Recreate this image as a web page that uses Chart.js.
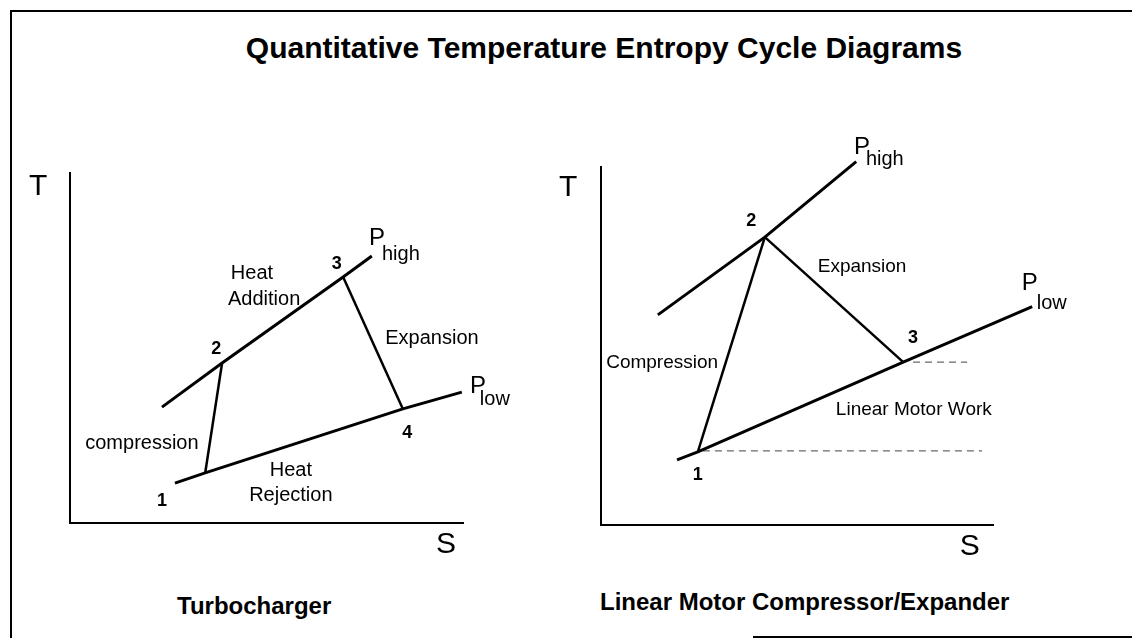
<!DOCTYPE html>
<html lang="en">
<head>
  <meta charset="UTF-8">
  <title>Quantitative Temperature Entropy Cycle Diagrams</title>
  <script src="https://cdn.jsdelivr.net/npm/chart.js@4"></script>
  <style>
    body { margin: 0; background: #fff; width: 1132px; height: 639px; position: relative; overflow: hidden;
           font-family: "Liberation Sans", Arial, sans-serif; color: #000; }
    .rule { position: absolute; background: #000; }
    .txt { position: absolute; white-space: nowrap; font-weight: bold; }
    canvas { position: absolute; top: 0; }
  </style>
</head>
<body>
  <div class="rule" style="left:10px; top:10px; width:1122px; height:2px;"></div>
  <div class="rule" style="left:10px; top:10px; width:2px; height:628px;"></div>
  <div class="rule" style="left:753px; top:636px; width:379px; height:2px;"></div>

  <div class="txt" style="left:104px; width:1000px; text-align:center; top:32px; font-size:30px; line-height:32px;">Quantitative Temperature Entropy Cycle Diagrams</div>
  <div class="txt" style="left:177px; top:594px; font-size:24px; line-height:24px;">Turbocharger</div>
  <div class="txt" style="left:600px; top:590px; font-size:24px; line-height:24px;">Linear Motor Compressor/Expander</div>

  <canvas id="turboChart" width="540" height="639" style="left:0;"></canvas>
  <canvas id="linearChart" width="592" height="639" style="left:540px;"></canvas>

  <script>
    // Turbocharger cycle (S = entropy, T = temperature, arbitrary units)
    const turboHighS = [2.34, 3.87, 6.95, 7.68];
    const turboHighT = [3.31, 4.57, 7.03, 7.63];
    const turboLowS  = [2.67, 3.44, 8.47, 9.97];
    const turboLowT  = [1.14, 1.43, 3.26, 3.74];
    const turboCompS = [3.44, 3.87];
    const turboCompT = [1.43, 4.57];
    const turboExpS  = [6.95, 8.47];
    const turboExpT  = [7.03, 3.26];

    // Linear motor compressor / expander cycle
    const linHighS = [1.45, 4.18, 6.51];
    const linHighT = [5.87, 8.04, 10.15];
    const linLowS  = [1.94, 2.47, 7.71, 11.0];
    const linLowT  = [1.82, 2.04, 4.55, 6.10];
    const linCompS = [2.47, 4.18];
    const linCompT = [2.04, 8.04];
    const linExpS  = [4.18, 7.71];
    const linExpT  = [8.04, 4.55];
    const linDash3S = [7.96, 9.34];
    const linDash3T = [4.55, 4.55];
    const linDash1S = [2.60, 9.72];
    const linDash1T = [2.07, 2.07];

    // text labels placed in S/T units
    const turboLabels = [
      { text: 'T', s: -0.81, t: 9.6, size: 30 },
      { text: 'S', s: 9.57, t: -0.63, size: 30 },
      { text: 'P', s: 7.81, t: 8.14, size: 24 },
      { text: 'high', s: 8.42, t: 7.66, size: 20 },
      { text: 'P', s: 10.38, t: 3.89, size: 24 },
      { text: 'low', s: 10.81, t: 3.54, size: 20 },
      { text: '1', s: 2.34, t: 0.63, size: 18, bold: true },
      { text: '2', s: 3.72, t: 4.97, size: 18, bold: true },
      { text: '3', s: 6.79, t: 7.4, size: 18, bold: true },
      { text: '4', s: 8.58, t: 2.57, size: 18, bold: true },
      { text: 'Heat', s: 4.63, t: 7.14, size: 20 },
      { text: 'Addition', s: 4.94, t: 6.4, size: 20 },
      { text: 'Expansion', s: 9.21, t: 5.26, size: 20 },
      { text: 'compression', s: 1.83, t: 2.26, size: 20 },
      { text: 'Heat', s: 5.62, t: 1.49, size: 20 },
      { text: 'Rejection', s: 5.62, t: 0.8, size: 20 }
    ];
    const linearLabels = [
      { text: 'T', s: -0.84, t: 9.41, size: 30 },
      { text: 'S', s: 9.41, t: -0.61, size: 30 },
      { text: 'P', s: 6.66, t: 10.56, size: 24 },
      { text: 'high', s: 7.24, t: 10.2, size: 20 },
      { text: 'P', s: 10.94, t: 6.76, size: 24 },
      { text: 'low', s: 11.5, t: 6.2, size: 20 },
      { text: '1', s: 2.47, t: 1.4, size: 18, bold: true },
      { text: '2', s: 3.83, t: 8.49, size: 18, bold: true },
      { text: '3', s: 7.96, t: 5.22, size: 18, bold: true },
      { text: 'Expansion', s: 6.66, t: 7.21, size: 19 },
      { text: 'Compression', s: 1.56, t: 4.53, size: 19 },
      { text: 'Linear Motor Work', s: 7.98, t: 3.21, size: 19 }
    ];

    function pts(sArr, tArr) {
      return sArr.map((s, i) => ({ x: s, y: tArr[i] }));
    }

    function line(sArr, tArr, width, dashed) {
      return {
        data: pts(sArr, tArr),
        showLine: true,
        pointRadius: 0,
        borderColor: dashed ? '#444' : '#000',
        borderWidth: width,
        borderDash: dashed ? [7, 5] : [],
        borderCapStyle: 'butt',
        clip: false
      };
    }

    function textPlugin(items) {
      return {
        id: 'cycleText',
        afterDatasetsDraw(chart) {
          const ctx = chart.ctx;
          const sx = chart.scales.x, ty = chart.scales.y;
          ctx.save();
          ctx.fillStyle = '#000';
          ctx.textAlign = 'center';
          ctx.textBaseline = 'middle';
          items.forEach(l => {
            ctx.font = (l.bold ? 'bold ' : '') + l.size + 'px "Liberation Sans", Arial, sans-serif';
            ctx.fillText(l.text, sx.getPixelForValue(l.s), ty.getPixelForValue(l.t));
          });
          ctx.restore();
        }
      };
    }

    function createCycleChart(id, datasets, labels, padding) {
      const ctx = document.getElementById(id).getContext('2d');
      const axis = {
        min: 0, max: 10,
        grid: { display: false, drawTicks: false },
        ticks: { display: false },
        border: { display: true, color: '#000', width: 2 }
      };
      return new Chart(ctx, {
        type: 'scatter',
        data: { datasets: datasets },
        options: {
          responsive: false,
          animation: false,
          devicePixelRatio: 1,
          layout: { padding: padding },
          plugins: { legend: { display: false }, tooltip: { enabled: false } },
          scales: { x: { ...axis }, y: { ...axis } }
        },
        plugins: [textPlugin(labels)]
      });
    }

    createCycleChart('turboChart', [
      line(turboHighS, turboHighT, 3),
      line(turboLowS, turboLowT, 3),
      line(turboCompS, turboCompT, 2.5),
      line(turboExpS, turboExpT, 2.5)
    ], turboLabels, { left: 70, right: 77, top: 173, bottom: 116 });

    createCycleChart('linearChart', [
      line(linHighS, linHighT, 3),
      line(linLowS, linLowT, 3),
      line(linCompS, linCompT, 2.5),
      line(linExpS, linExpT, 2.5),
      line(linDash3S, linDash3T, 1, true),
      line(linDash1S, linDash1T, 1, true)
    ], linearLabels, { left: 61, right: 139, top: 167, bottom: 114 });
  </script>
</body>
</html>
